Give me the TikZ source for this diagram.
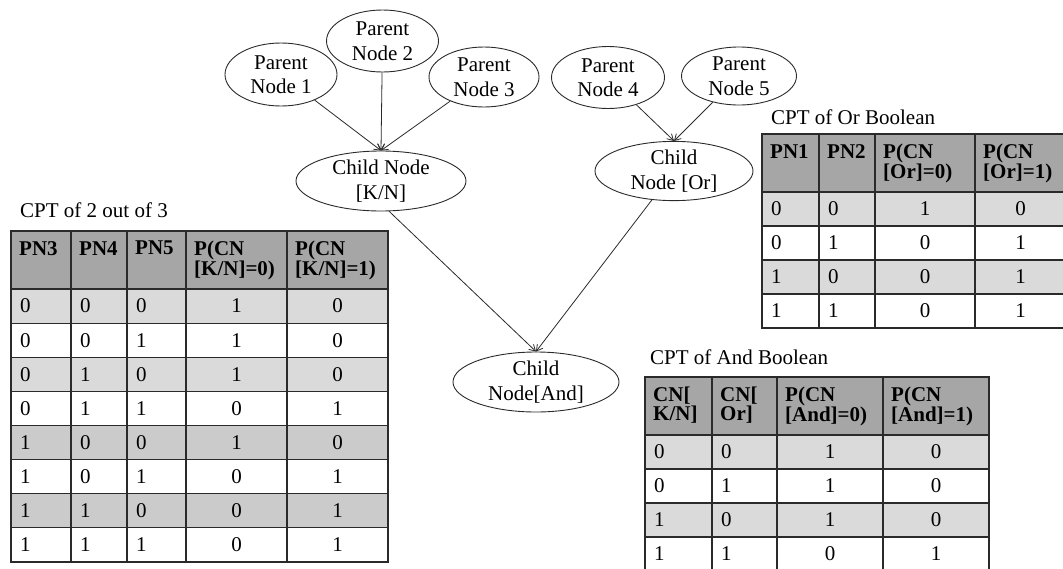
\documentclass[tikz,border=0pt]{standalone}
\usepackage{fontspec}
\setmainfont{Liberation Serif}
\usetikzlibrary{shapes.geometric,arrows.meta}

\definecolor{hdrgray}{HTML}{A6A6A6}
\definecolor{bandlight}{HTML}{DADADA}
\definecolor{banddark}{HTML}{CBCBCB}
\definecolor{inkline}{HTML}{2A2A2A}

\newcommand\cellfont{\fontsize{21}{19}\selectfont}
\newcommand\labelfont{\fontsize{21}{24.5}\selectfont}

\begin{document}
\begin{tikzpicture}[x=1pt,y=-1pt,
  bubble/.style={ellipse,draw=inkline,line width=0.9pt,inner sep=0pt,align=center,font=\labelfont},
  arr/.style={draw=inkline,line width=0.8pt,-{Straight Barb[length=6pt,width=7pt]}},
  gridline/.style={draw=inkline,line width=1.1pt,line cap=rect},
  title/.style={anchor=base west,inner sep=0pt,font=\labelfont},
  head/.style={anchor=north west,inner sep=0pt,align=left,font=\cellfont\bfseries},
  lcell/.style={anchor=west,inner sep=0pt,font=\cellfont},
  ccell/.style={anchor=center,inner sep=0pt,font=\cellfont},
]
\useasboundingbox (0,0) rectangle (1063,568);

% ---------------- network ----------------
\node[bubble,minimum width=112pt,minimum height=63pt] (p1) at (281,74.5) {Parent\\Node 1};
\node[bubble,minimum width=112pt,minimum height=62pt] (p2) at (382.5,41) {Parent\\Node 2};
\node[bubble,minimum width=110pt,minimum height=60pt] (p3) at (484,77) {Parent\\Node 3};
\node[bubble,minimum width=113pt,minimum height=62pt] (p4) at (608,77.5) {Parent\\Node 4};
\node[bubble,minimum width=115pt,minimum height=58pt] (p5) at (739,76) {Parent\\Node 5};
\node[bubble,minimum width=170pt,minimum height=60pt] (kn) at (381,181) {Child Node\\{}[K/N]};
\node[bubble,minimum width=158pt,minimum height=58pt] (orn) at (674,171) {Child\\Node [Or]};
\node[bubble,minimum width=166pt,minimum height=60pt] (andn) at (536,382) {Child\\Node[And]};

\draw[arr] (p1) -- (kn.north);
\draw[arr] (p2) -- (kn.north);
\draw[arr] (p3) -- (kn.north);
\draw[arr] (p4) -- (orn.north);
\draw[arr] (p5) -- (orn.north);
\draw[arr] (kn.-75) -- (andn.north);
\draw[arr] (orn) -- (andn.north);

\begin{scope}
\clip (0,0) rectangle (1063,568);

% ---------------- CPT of 2 out of 3 ----------------
\node[title] (t1) at (20,217) {CPT of 2 out of 3};
\fill[hdrgray] (11,231) rectangle (388,289);
\foreach \r/\c in {1/bandlight,3/bandlight,5/banddark,7/banddark}
  \fill[\c] (11,{289+(\r-1)*34.125}) rectangle (388,{289+\r*34.125});
\foreach \x in {11,71,127,186,287,388} \draw[gridline] (\x,231) -- (\x,562);
\draw[gridline] (11,231) -- (388,231);
\foreach \i in {0,...,8} \draw[gridline] (11,{289+\i*34.125}) -- (388,{289+\i*34.125});
\node[head] (kh1) at (19,241) {PN3};
\node[head] (kh2) at (79,241) {PN4};
\node[head] (kh3) at (135,241) {PN5};
\node[head] (kh4) at (194,241) {P(CN\\{}[K/N]=0)};
\node[head] (kh5) at (295,241) {P(CN\\{}[K/N]=1)};
\foreach \a/\b/\c/\d/\e [count=\i] in
  {0/0/0/1/0, 0/0/1/1/0, 0/1/0/1/0, 0/1/1/0/1, 1/0/0/1/0, 1/0/1/0/1, 1/1/0/0/1, 1/1/1/0/1} {
  \pgfmathsetmacro\yy{289+(\i-0.5)*34.125}
  \node[lcell] (k-\i-1) at (20,\yy) {\a};
  \node[lcell] (k-\i-2) at (80,\yy) {\b};
  \node[lcell] (k-\i-3) at (136,\yy) {\c};
  \node[ccell] (k-\i-4) at (236.5,\yy) {\d};
  \node[ccell] (k-\i-5) at (337.5,\yy) {\e};
}

% ---------------- CPT of Or Boolean ----------------
\node[title] (t2) at (771,124) {CPT of Or Boolean};
\fill[hdrgray] (762,134) rectangle (1066,192);
\foreach \r in {1,3}
  \fill[bandlight] (762,{192+(\r-1)*34}) rectangle (1066,{192+\r*34});
\foreach \x in {762,819,875,975,1066} \draw[gridline] (\x,134) -- (\x,328);
\draw[gridline] (762,134) -- (1066,134);
\foreach \i in {0,...,4} \draw[gridline] (762,{192+\i*34}) -- (1066,{192+\i*34});
\node[head] (oh1) at (770,144) {PN1};
\node[head] (oh2) at (827,144) {PN2};
\node[head] (oh3) at (883,144) {P(CN\\{}[Or]=0)};
\node[head] (oh4) at (983,144) {P(CN\\{}[Or]=1)};
\foreach \a/\b/\c/\d [count=\i] in {0/0/1/0, 0/1/0/1, 1/0/0/1, 1/1/0/1} {
  \pgfmathsetmacro\yy{192+(\i-0.5)*34}
  \node[lcell] (o-\i-1) at (771,\yy) {\a};
  \node[lcell] (o-\i-2) at (828,\yy) {\b};
  \node[ccell] (o-\i-3) at (925,\yy) {\c};
  \node[ccell] (o-\i-4) at (1020.5,\yy) {\d};
}

% ---------------- CPT of And Boolean ----------------
\node[title] (t3) at (650,364) {CPT of And Boolean};
\fill[hdrgray] (645,377) rectangle (989,435);
\foreach \r in {1,3}
  \fill[bandlight] (645,{435+(\r-1)*34}) rectangle (989,{435+\r*34});
\foreach \x in {645,712,777,883,989} \draw[gridline] (\x,377) -- (\x,571);
\draw[gridline] (645,377) -- (989,377);
\foreach \i in {0,...,4} \draw[gridline] (645,{435+\i*34}) -- (989,{435+\i*34});
\node[head] (ah1) at (653,387) {CN[\\K/N]};
\node[head] (ah2) at (720,387) {CN[\\Or]};
\node[head] (ah3) at (785,387) {P(CN\\{}[And]=0)};
\node[head] (ah4) at (891,387) {P(CN\\{}[And]=1)};
\foreach \a/\b/\c/\d [count=\i] in {0/0/1/0, 0/1/1/0, 1/0/1/0, 1/1/0/1} {
  \pgfmathsetmacro\yy{435+(\i-0.5)*34}
  \node[lcell] (a-\i-1) at (654,\yy) {\a};
  \node[lcell] (a-\i-2) at (721,\yy) {\b};
  \node[ccell] (a-\i-3) at (830,\yy) {\c};
  \node[ccell] (a-\i-4) at (936,\yy) {\d};
}
\end{scope}
\end{tikzpicture}
\end{document}
